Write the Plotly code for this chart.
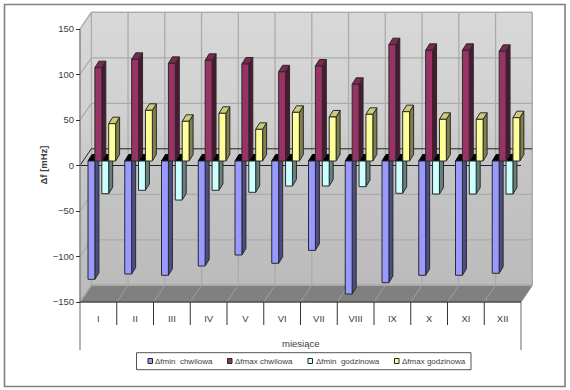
import plotly.graph_objects as go

months = ["I", "II", "III", "IV", "V", "VI", "VII", "VIII", "IX", "X", "XI", "XII"]
dfmin_chwilowa = [-130, -124.2, -125.6, -115.4, -103.3, -112.4, -98.2, -146.2, -133.7, -125.6, -125.6, -123.4]
dfmax_chwilowa = [102.6, 111.7, 107.3, 110.6, 106.6, 98, 104.4, 84.3, 127.8, 121.6, 121.6, 120.5]
dfmin_godzinowa = [-35.9, -32.2, -42.9, -32.2, -34.4, -27.5, -27.5, -28.2, -35.5, -36.3, -36.3, -36.3]
dfmax_godzinowa = [41, 55.7, 43.6, 52.4, 34.8, 53.5, 48.4, 51.3, 54.2, 45.8, 45.8, 47.6]
series_names = ["Δfmin\u00a0\u00a0chwilowa", "Δfmax chwilowa", "Δfmin\u00a0\u00a0godzinowa", "Δfmax godzinowa"]
y_ticks = [-150, -100, -50, 0, 50, 100, 150]

W, H = 570, 390
X0, MONTH_PX = 80.0, 36.75
Y0, UNIT_PX = 165.5, 0.91
x_range = [(0 - X0) / MONTH_PX, (W - X0) / MONTH_PX]
y_range = [(Y0 - H) / UNIT_PX, Y0 / UNIT_PX]
xpx = lambda p: p / MONTH_PX
ypx = lambda p: p / UNIT_PX
vy = lambda p: (Y0 - p) / UNIT_PX

WALL_DX, WALL_DY = xpx(11.3), ypx(16.7)
FRONT_DX, BASE = xpx(3.7), ypx(4.5)
SIDE_DX, SIDE_DY = xpx(4.0), ypx(6.5)
BAR_W, BAR_START = xpx(6.9), xpx(8.0)
EDGE = "#2A2A2A"

series = [
    (dfmin_chwilowa, "#9999FF", "#4D4D85", "#000000"),
    (dfmax_chwilowa, "#993366", "#4C1933", "#7A2952"),
    (dfmin_godzinowa, "#CCFFFF", "#668080", "#000000"),
    (dfmax_godzinowa, "#FFFF99", "#80804C", "#CCCC7A"),
]

fig = go.Figure()


def poly(xs, ys, fill, line=None, width=1, **kw):
    fig.add_trace(go.Scatter(x=xs, y=ys, mode="lines", fill="toself", fillcolor=fill,
                             line=dict(color=line or fill, width=width), hoverinfo="skip",
                             showlegend=False, xaxis="x", yaxis="y", **kw))


def lines(segments, color, width=1):
    xs, ys = [], []
    for (a, b, c, d) in segments:
        xs += [a, c, None]
        ys += [b, d, None]
    fig.add_trace(go.Scatter(x=xs, y=ys, mode="lines", line=dict(color=color, width=width),
                             hoverinfo="skip", showlegend=False, xaxis="x", yaxis="y"))


n = len(months)
top, bot = max(y_ticks), min(y_ticks)
wall_grad = dict(type="vertical", colorscale=[[0, "#BBBBBB"], [0.45, "#C6C6C6"], [0.6, "#D0D0D0"], [1, "#D8D8D8"]])
# back wall, side wall, floor
poly([WALL_DX, n + WALL_DX, n + WALL_DX, WALL_DX, WALL_DX],
     [bot + WALL_DY, bot + WALL_DY, top + WALL_DY, top + WALL_DY, bot + WALL_DY], "#CCCCCC",
     line="#A8A8A8", fillgradient=wall_grad)
poly([0, WALL_DX, WALL_DX, 0, 0], [bot, bot + WALL_DY, top + WALL_DY, top, bot], "#CCCCCC",
     line="#A8A8A8", fillgradient=wall_grad)
poly([0, n, n + WALL_DX, WALL_DX, 0], [bot, bot, bot + WALL_DY, bot + WALL_DY, bot], "#808080")

# gridlines on the walls and the floor
grid = []
for t in y_ticks:
    if t != 0:
        grid.append((WALL_DX, t + WALL_DY, n + WALL_DX, t + WALL_DY))
        grid.append((0, t, WALL_DX, t + WALL_DY))
for m in range(1, n + 1):
    grid.append((m + WALL_DX, bot + WALL_DY, m + WALL_DX, top + WALL_DY))
lines(grid, "#ABABAB", 1.3)
lines([(m, bot, m + WALL_DX, bot + WALL_DY) for m in range(1, n)], "#A0A0A0", 1)

# zero planes
lines([(0, 0, WALL_DX, WALL_DY), (WALL_DX, WALL_DY, n + WALL_DX, WALL_DY), (0, 0, n, 0)], "#222222", 1)

# axis frame and the month table
lines([(0, top, 0, vy(350)), (n, bot, n, vy(350))], "#808080", 1.2)
lines([(0, bot, n, bot)] + [(m, bot, m, vy(325)) for m in range(1, n)], "#333333", 1)

# depth faces
for k, (vals, _, side, cap) in enumerate(series):
    if vals[0] < 0:
        xs, ys = [], []
        for m in range(n):
            l = m + BAR_START + k * BAR_W
            xs += [l, l + BAR_W, l + BAR_W + SIDE_DX, l + SIDE_DX, l, None]
            ys += [BASE, BASE, BASE + SIDE_DY, BASE + SIDE_DY, BASE, None]
        poly(xs, ys, "#000000", line="#000000")
for k, (vals, _, side, cap) in enumerate(series):
    sx, sy, cx, cy = [], [], [], []
    for m, v in enumerate(vals):
        l = m + BAR_START + k * BAR_W
        r = l + BAR_W
        e = BASE + v
        sx += [r, r + SIDE_DX, r + SIDE_DX, r, r, None]
        sy += [BASE, BASE + SIDE_DY, e + SIDE_DY, e, BASE, None]
        cx += [l, r, r + SIDE_DX, l + SIDE_DX, l, None]
        cy += [e, e, e + SIDE_DY, e + SIDE_DY, e, None]
    poly(sx, sy, side, line=EDGE)
    if vals[0] > 0:
        poly(cx, cy, cap, line=EDGE)

# front faces: real bars on an overlaid pair of axes
for k, (vals, front, _, _) in enumerate(series):
    fig.add_trace(go.Bar(x=[m + BAR_START + (k + 0.5) * BAR_W for m in range(n)], y=vals,
                         base=[BASE] * n, width=BAR_W, name=series_names[k],
                         marker=dict(color=front, line=dict(color=EDGE, width=1)),
                         xaxis="x2", yaxis="y2", showlegend=False))

FONT = "Liberation Sans, Arial, sans-serif"
TXT = "#404040"
px = lambda p: p / W
py = lambda p: 1 - p / H

shapes = [
    dict(type="rect", xref="paper", yref="paper", x0=px(4.5), x1=px(565), y0=py(4.5), y1=py(386.5),
         line=dict(color="#808080", width=1.6), fillcolor="#FFFFFF", layer="below"),
    dict(type="rect", xref="paper", yref="paper", x0=px(136.5), x1=px(471), y0=py(352.7), y1=py(369.7),
         line=dict(color="#555555", width=1), fillcolor="#FFFFFF", layer="above"),
]
annotations = [
    dict(x=6, y=vy(343), xref="x", yref="y", text="miesiące", showarrow=False, yanchor="middle",
         font=dict(family=FONT, size=9.5, color=TXT)),
    dict(x=px(42.5), y=py(165), xref="paper", yref="paper", text="<b>Δf [mHz]</b>", textangle=-90,
         showarrow=False, xanchor="center", yanchor="middle", font=dict(family=FONT, size=9.5, color=TXT)),
]
swatch_px = [148, 227.5, 308, 394.5]
label_px = [152.5, 233, 314, 400]
for (_, front, _, _), name, sp, lp in zip(series, series_names, swatch_px, label_px):
    shapes.append(dict(type="rect", xref="paper", yref="paper", x0=px(sp), x1=px(sp + 4.5),
                       y0=py(358.5), y1=py(363.5), fillcolor=front,
                       line=dict(color="#222222", width=1), layer="above"))
    annotations.append(dict(x=px(lp), y=py(361), xref="paper", yref="paper", text=name, showarrow=False,
                            xanchor="left", yanchor="middle", font=dict(family=FONT, size=8, color=TXT)))

fig.update_layout(
    width=W, height=H, autosize=False, margin=dict(l=0, r=0, t=0, b=0),
    paper_bgcolor="#FFFFFF", plot_bgcolor="rgba(0,0,0,0)", barmode="overlay", showlegend=False,
    shapes=shapes, annotations=annotations,
    xaxis=dict(range=x_range, domain=[0, 1], anchor="free", position=(H - 302.0) / H, showgrid=False,
               zeroline=False, showline=False, tickmode="array",
               tickvals=[m + 0.5 for m in range(n)], ticktext=months, ticks="outside", ticklen=8,
               tickcolor="rgba(0,0,0,0)", tickfont=dict(family=FONT, size=9.5, color=TXT)),
    yaxis=dict(range=y_range, domain=[0, 1], anchor="free", position=X0 / W, showgrid=False,
               zeroline=False, showline=False, tickmode="array", tickvals=y_ticks, ticks="outside",
               ticklen=4, tickcolor="#333333", tickfont=dict(family=FONT, size=9.5, color=TXT)),
    xaxis2=dict(range=x_range, overlaying="x", visible=False),
    yaxis2=dict(range=y_range, overlaying="y", visible=False),
)

fig.write_html("out.html", post_script="document.body.style.margin='0';",
               config={"displayModeBar": False})
